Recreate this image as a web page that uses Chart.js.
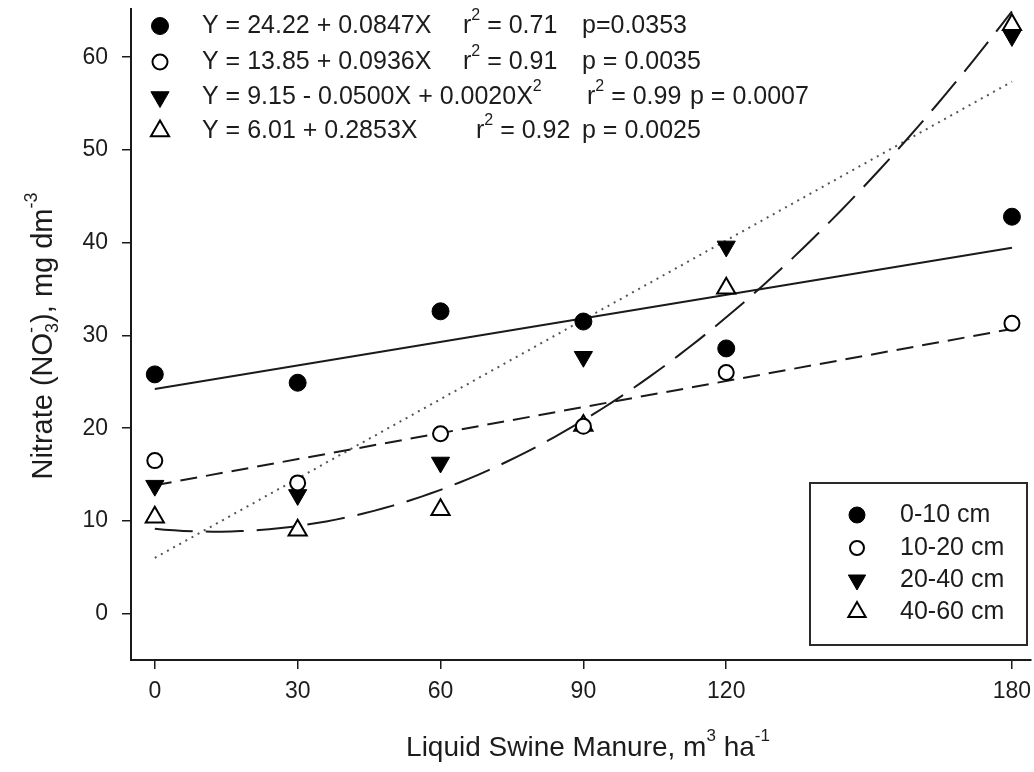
<!DOCTYPE html>
<html><head><meta charset="utf-8">
<script src="https://cdn.jsdelivr.net/npm/chart.js@4.4.0/dist/chart.umd.min.js"></script>
<style>html,body{margin:0;padding:0;background:#fff}#wrap{width:1034px;height:772px}</style>
</head><body><div id="wrap"><canvas id="c" width="1034" height="772"></canvas></div>
<script>
// ---- data ----
const manureRates = [0, 30, 60, 90, 120, 180];
const depth0_10  = [25.8, 24.9, 32.6, 31.5, 28.6, 42.8];
const depth10_20 = [16.5, 14.1, 19.4, 20.2, 26.0, 31.3];
const depth20_40 = [13.8, 12.8, 16.3, 27.7, 39.6, 62.3];
const depth40_60 = [10.4, 9.0, 11.2, 20.3, 35.1, 63.5];
const seriesLabels = ['0-10 cm', '10-20 cm', '20-40 cm', '40-60 cm'];
const xTickValues = [0, 30, 60, 90, 120, 180];
const yTickValues = [0, 10, 20, 30, 40, 50, 60];
// printed regression coefficients: Y = a + bX + cX^2
const fit0_10  = [24.22, 0.0847, 0];
const fit10_20 = [13.85, 0.0936, 0];
const fit20_40 = [9.15, -0.0500, 0.0020];
const fit40_60 = [6.01, 0.2853, 0];
const equationTexts = ['Y = 24.22 + 0.0847X', 'Y = 13.85 + 0.0936X', 'Y = 9.15 - 0.0500X + 0.0020X', 'Y = 6.01 + 0.2853X'];
const r2Values = ['0.71', '0.91', '0.99', '0.92'];
const pValues = ['p=0.0353', 'p = 0.0035', 'p = 0.0007', 'p = 0.0025'];

const FONT = '"Liberation Sans", Arial, sans-serif';
const INK = '#1c1c1c';

function pts(ys){ return manureRates.map((x,i)=>({x:x, y:ys[i]})); }
function fitPts(c, quadratic){
  const xs = quadratic ? Array.from({length:91},(_,i)=>i*2) : [manureRates[0], manureRates[manureRates.length-1]];
  return xs.map(x=>({x:x, y:c[0]+c[1]*x+c[2]*x*x}));
}

const markerStyles = [
  {pointStyle:'circle', radius:8.5, rotation:0, fill:'#000', stroke:'#000', bw:1},
  {pointStyle:'circle', radius:7.5, rotation:0, fill:'#fff', stroke:'#000', bw:2},
  {pointStyle:'triangle', radius:10.5, rotation:180, fill:'#000', stroke:'#000', bw:1},
  {pointStyle:'triangle', radius:10.5, rotation:0, fill:'#fff', stroke:'#000', bw:2}
];
const seriesData = [depth0_10, depth10_20, depth20_40, depth40_60];

const datasets = [];
seriesData.forEach((ys,i)=>{
  const m = markerStyles[i];
  datasets.push({label:seriesLabels[i], data:pts(ys), showLine:false, pointStyle:m.pointStyle,
    pointRadius:m.radius, pointRotation:m.rotation, pointBackgroundColor:m.fill, pointBorderColor:m.stroke,
    pointBorderWidth:m.bw, order:0});
});
const lineDefs = [
  {c:fit0_10, q:false, dash:[], color:'#1a1a1a', w:2},
  {c:fit10_20, q:false, dash:[17,9], color:'#1a1a1a', w:2},
  {c:fit20_40, q:true, dash:[38,13], color:'#1a1a1a', w:2},
  {c:fit40_60, q:false, dash:[2,5], color:'#555', w:2}
];
lineDefs.forEach((d,i)=>{
  datasets.push({label:'fit '+seriesLabels[i], data:fitPts(d.c,d.q), showLine:true, pointRadius:0,
    borderColor:d.color, borderWidth:d.w, borderDash:d.dash, fill:false, tension:0, order:1});
});

function drawMarker(ctx, m, x, y){
  ctx.save();
  ctx.fillStyle = m.fill; ctx.strokeStyle = m.stroke; ctx.lineWidth = m.bw;
  ctx.beginPath();
  if (m.pointStyle === 'circle') {
    ctx.arc(x, y, m.radius, 0, Math.PI*2);
  } else {
    let rad = m.rotation*Math.PI/180;
    const r = m.radius;
    ctx.moveTo(x + Math.sin(rad)*r, y - Math.cos(rad)*r);
    rad += 2*Math.PI/3; ctx.lineTo(x + Math.sin(rad)*r, y - Math.cos(rad)*r);
    rad += 2*Math.PI/3; ctx.lineTo(x + Math.sin(rad)*r, y - Math.cos(rad)*r);
    ctx.closePath();
  }
  ctx.fill(); ctx.stroke();
  ctx.restore();
}

function richWidth(ctx, parts, size){
  let w = 0;
  parts.forEach(p=>{
    if (p.k === 'n') { ctx.font = size+'px '+FONT; w += ctx.measureText(p.t).width; }
    else if (p.k === 'subsup') { ctx.font = Math.round(size*0.62)+'px '+FONT;
      w += Math.max(ctx.measureText(p.t[0]).width, ctx.measureText(p.t[1]).width); }
    else { ctx.font = Math.round(size*0.62)+'px '+FONT; w += ctx.measureText(p.t).width; }
  });
  return w;
}
function drawRich(ctx, x, y, parts, size){
  ctx.textBaseline = 'middle'; ctx.textAlign = 'left';
  let cx = x;
  parts.forEach(p=>{
    if (p.k === 'n') { ctx.font = size+'px '+FONT; ctx.fillText(p.t, cx, y); cx += ctx.measureText(p.t).width; }
    else if (p.k === 'sup') { ctx.font = Math.round(size*0.62)+'px '+FONT; ctx.fillText(p.t, cx, y - size*0.42); cx += ctx.measureText(p.t).width; }
    else if (p.k === 'sub') { ctx.font = Math.round(size*0.62)+'px '+FONT; ctx.fillText(p.t, cx, y + size*0.3); cx += ctx.measureText(p.t).width; }
    else if (p.k === 'subsup') { ctx.font = Math.round(size*0.62)+'px '+FONT;
      ctx.fillText(p.t[0], cx, y + size*0.3); ctx.fillText(p.t[1], cx, y - size*0.42);
      cx += Math.max(ctx.measureText(p.t[0]).width, ctx.measureText(p.t[1]).width); }
  });
  return cx;
}

const annotationPlugin = {
  id: 'annot',
  afterDraw(chart){
    const ctx = chart.ctx;
    ctx.save();
    ctx.fillStyle = INK;
    // equation block
    const rowY = [26, 62, 97, 131];
    const r2X = [463, 463, 587, 476];
    const pX = [582, 582, 690, 582];
    const eqSize = 25;
    for (let i=0;i<4;i++){
      drawMarker(ctx, markerStyles[i], 160, rowY[i]);
      ctx.fillStyle = INK;
      const eqParts = [{t:equationTexts[i], k:'n'}];
      if (i === 2) eqParts.push({t:'2', k:'sup'});
      drawRich(ctx, 202, rowY[i], eqParts, eqSize);
      drawRich(ctx, r2X[i], rowY[i], [{t:'r',k:'n'},{t:'2',k:'sup'},{t:' = '+r2Values[i],k:'n'}], eqSize);
      drawRich(ctx, pX[i], rowY[i], [{t:pValues[i],k:'n'}], eqSize);
    }
    // legend box
    ctx.strokeStyle = '#2a2a2a'; ctx.lineWidth = 2;
    ctx.strokeRect(810, 483, 217, 162);
    const legY = [515, 548, 580, 612];
    for (let i=0;i<4;i++){
      drawMarker(ctx, Object.assign({}, markerStyles[i], {radius: markerStyles[i].radius-0.5}), 857, legY[i]);
      ctx.fillStyle = INK;
      drawRich(ctx, 900, legY[i], [{t:seriesLabels[i],k:'n'}], 25);
    }
    // x axis title
    const xs = 28;
    const xt = [{t:'Liquid Swine Manure, m',k:'n'},{t:'3',k:'sup'},{t:' ha',k:'n'},{t:'-1',k:'sup'}];
    const xw = richWidth(ctx, xt, xs);
    ctx.fillStyle = INK;
    drawRich(ctx, 588 - xw/2, 748, xt, xs);
    // y axis title
    const ys = 29;
    const yt = [{t:'Nitrate (NO',k:'n'},{t:['3','-'],k:'subsup'},{t:'), mg dm',k:'n'},{t:'-3',k:'sup'}];
    const yw = richWidth(ctx, yt, ys);
    ctx.save();
    ctx.translate(44, 336);
    ctx.rotate(-Math.PI/2);
    drawRich(ctx, -yw/2, 0, yt, ys);
    ctx.restore();
    ctx.restore();
  }
};

const tickFont = {family: FONT, size: 23};
new Chart(document.getElementById('c'), {
  type: 'scatter',
  data: {datasets: datasets},
  options: {
    responsive: false, animation: false, devicePixelRatio: 1,
    layout: {autoPadding: false, padding: {top: 9, right: 3, left: 0, bottom: 0}},
    plugins: {legend: {display: false}, tooltip: {enabled: false}},
    scales: {
      x: {type: 'linear', min: -5, max: 184,
        afterBuildTicks: s => { s.ticks = xTickValues.map(v => ({value: v})); },
        afterFit: s => { s.height = 112; s.paddingLeft = 0; s.paddingRight = 0; },
        grid: {drawOnChartArea: false, drawTicks: true, tickLength: 9, color: '#1a1a1a', lineWidth: 1.5},
        border: {display: true, color: '#1a1a1a', width: 2},
        ticks: {font: tickFont, color: INK, padding: 9, maxRotation: 0, autoSkip: false}
      },
      y: {type: 'linear', min: -5, max: 65.2,
        afterBuildTicks: s => { s.ticks = yTickValues.map(v => ({value: v})); },
        afterFit: s => { s.width = 131; s.paddingTop = 0; s.paddingBottom = 0; },
        grid: {drawOnChartArea: false, drawTicks: true, tickLength: 9, color: '#1a1a1a', lineWidth: 1.5},
        border: {display: true, color: '#1a1a1a', width: 2},
        ticks: {font: tickFont, color: INK, padding: 14, autoSkip: false}
      }
    }
  },
  plugins: [annotationPlugin]
});
</script>
</body></html>
